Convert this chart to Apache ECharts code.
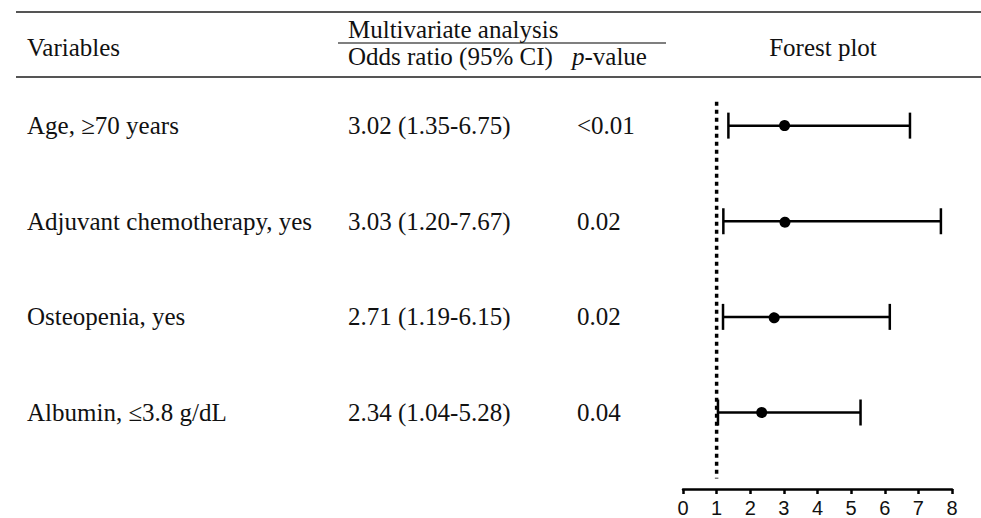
<!DOCTYPE html>
<html>
<head>
<meta charset="utf-8">
<script src="https://cdn.jsdelivr.net/npm/echarts@6/dist/echarts.min.js"></script>
<style>html,body{margin:0;padding:0;background:#fff}#c{width:981px;height:518px}</style>
</head>
<body>
<div id="c"></div>
<script>
var variables = ['Age, \u226570 years', 'Adjuvant chemotherapy, yes', 'Osteopenia, yes', 'Albumin, \u22643.8 g/dL'];
var oddsRatio = [3.02, 3.03, 2.71, 2.34];
var ciLow = [1.35, 1.20, 1.19, 1.04];
var ciHigh = [6.75, 7.67, 6.15, 5.28];
var pValues = ['<0.01', '0.02', '0.02', '0.04'];
var xTicks = [0, 1, 2, 3, 4, 5, 6, 7, 8];
var refValue = 1;

var SERIF = '"Liberation Serif", "Times New Roman", serif';
var TXT = '#111';
var FS = 25;

var rows = variables.map(function (v, i) {
  return [ciLow[i], oddsRatio[i], ciHigh[i], i + 1];
});
var textRows = variables.map(function (v, i) {
  return [0, i + 1, v, oddsRatio[i].toFixed(2) + ' (' + ciLow[i].toFixed(2) + '-' + ciHigh[i].toFixed(2) + ')', pValues[i]];
});

var chart = echarts.init(document.getElementById('c'), null, {renderer: 'svg'});
chart.setOption({
  animation: false,
  backgroundColor: '#fff',
  grid: {left: 683, right: 29, top: 30, bottom: 27, containLabel: false},
  xAxis: {
    type: 'value', position: 'bottom', min: xTicks[0], max: xTicks[xTicks.length - 1], interval: 1,
    axisLine: {show: true, onZero: false, lineStyle: {color: '#000', width: 2.5}},
    axisTick: {show: true, length: 5, lineStyle: {color: '#000', width: 2.5}},
    axisLabel: {margin: 9, fontFamily: '"Liberation Sans", Arial, sans-serif', fontSize: 20, color: '#111'},
    splitLine: {show: false}
  },
  yAxis: {type: 'value', inverse: true, min: 0, max: 4.8, show: false},
  graphic: [
    {type: 'line', shape: {x1: 16, y1: 12, x2: 981, y2: 12}, style: {stroke: '#555', lineWidth: 2}},
    {type: 'line', shape: {x1: 16, y1: 77, x2: 981, y2: 77}, style: {stroke: '#555', lineWidth: 2}},
    {type: 'line', shape: {x1: 338, y1: 43, x2: 666, y2: 43}, style: {stroke: '#555', lineWidth: 1.5}},
    {type: 'text', x: 27, y: 47, style: {text: 'Variables', font: FS + 'px ' + SERIF, fill: TXT, verticalAlign: 'middle'}},
    {type: 'text', x: 348, y: 29, style: {text: 'Multivariate analysis', font: FS + 'px ' + SERIF, fill: TXT, verticalAlign: 'middle'}},
    {type: 'text', x: 348, y: 56, style: {text: 'Odds ratio (95% CI)', font: FS + 'px ' + SERIF, fill: TXT, verticalAlign: 'middle'}},
    {type: 'text', x: 572, y: 56, style: {text: '{i|p}-value', font: FS + 'px ' + SERIF, fill: TXT, verticalAlign: 'middle',
      rich: {i: {fontStyle: 'italic', fontFamily: SERIF, fontSize: FS, fill: TXT}}}},
    {type: 'text', x: 823, y: 47, style: {text: 'Forest plot', font: FS + 'px ' + SERIF, fill: TXT, verticalAlign: 'middle', align: 'center'}}
  ],
  series: [
    {
      type: 'line', symbol: 'none', silent: true,
      data: [[refValue, 0.75], [refValue, 4.69]],
      lineStyle: {color: '#000', width: 3.5, type: [4, 4]}
    },
    {
      type: 'custom', clip: false, silent: true,
      data: rows,
      renderItem: function (params, api) {
        var row = api.value(3);
        var a = api.coord([api.value(0), row]);
        var m = api.coord([api.value(1), row]);
        var b = api.coord([api.value(2), row]);
        var st = {stroke: '#000', lineWidth: 2.5};
        return {type: 'group', children: [
          {type: 'line', shape: {x1: a[0], y1: a[1], x2: b[0], y2: b[1]}, style: st},
          {type: 'line', shape: {x1: a[0], y1: a[1] - 13, x2: a[0], y2: a[1] + 13}, style: st},
          {type: 'line', shape: {x1: b[0], y1: b[1] - 13, x2: b[0], y2: b[1] + 13}, style: st},
          {type: 'circle', shape: {cx: m[0], cy: m[1], r: 5.5}, style: {fill: '#000'}}
        ]};
      }
    },
    {
      type: 'custom', clip: false, silent: true,
      data: textRows,
      renderItem: function (params, api) {
        var y = api.coord([0, api.value(1)])[1];
        var d = textRows[params.dataIndex];
        var f = FS + 'px ' + SERIF;
        return {type: 'group', children: [
          {type: 'text', x: 27, y: y, style: {text: d[2], font: f, fill: TXT, verticalAlign: 'middle'}},
          {type: 'text', x: 348, y: y, style: {text: d[3], font: f, fill: TXT, verticalAlign: 'middle'}},
          {type: 'text', x: 577, y: y, style: {text: d[4], font: f, fill: TXT, verticalAlign: 'middle'}}
        ]};
      }
    }
  ]
});
</script>
</body>
</html>
